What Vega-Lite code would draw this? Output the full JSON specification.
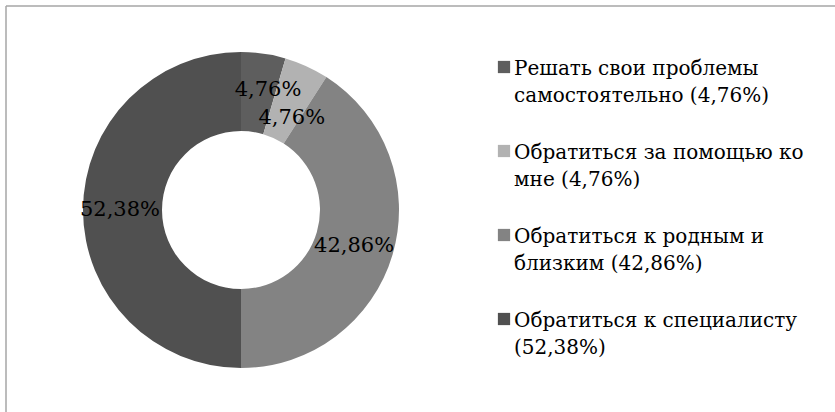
{
  "$schema": "https://vega.github.io/schema/vega-lite/v6.json",
  "width": 840,
  "height": 420,
  "padding": {"left": 6, "top": 6, "right": 0, "bottom": 0},
  "autosize": {"type": "none"},
  "background": "white",
  "config": {
    "view": {"stroke": null},
    "style": {"guide-label": {"lineHeight": 27, "dy": 7.5}}
  },
  "data": {
    "values": [
      {"idx": 1, "label": "Решать свои проблемы|самостоятельно (4,76%)", "value": 4.76, "pct": "4,76%"},
      {"idx": 2, "label": "Обратиться за помощью ко|мне (4,76%)", "value": 4.76, "pct": "4,76%"},
      {"idx": 3, "label": "Обратиться к родным и|близким (42,86%)", "value": 42.86, "pct": "42,86%"},
      {"idx": 4, "label": "Обратиться к специалисту|(52,38%)", "value": 52.38, "pct": "52,38%"}
    ]
  },
  "encoding": {
    "theta": {"field": "value", "type": "quantitative", "stack": true},
    "order": {"field": "idx", "type": "quantitative"}
  },
  "layer": [
    {
      "mark": {"type": "arc", "innerRadius": 79, "outerRadius": 158, "x": 235, "y": 204},
      "encoding": {
        "color": {
          "field": "label",
          "type": "nominal",
          "sort": null,
          "scale": {
            "domain": [
              "Решать свои проблемы|самостоятельно (4,76%)",
              "Обратиться за помощью ко|мне (4,76%)",
              "Обратиться к родным и|близким (42,86%)",
              "Обратиться к специалисту|(52,38%)"
            ],
            "range": ["#5e5e5e", "#b2b2b2", "#838383", "#505050"]
          },
          "legend": {
            "title": null,
            "orient": "none",
            "legendX": 488,
            "legendY": 51,
            "symbolType": "square",
            "symbolSize": 150,
            "symbolStrokeWidth": 0,
            "labelFont": "DejaVu Serif",
            "labelFontSize": 20,
            "labelColor": "#000000",
            "labelLimit": 400,
            "labelOffset": 0,
            "labelBaseline": "alphabetic",
            "rowPadding": 35,
            "labelExpr": "split(datum.label, '|')"
          }
        }
      }
    },
    {
      "mark": {"type": "text", "radius": 120, "x": 235, "y": 204, "dx": 10, "dy": -1, "font": "DejaVu Serif", "fontSize": 21, "color": "#000000"},
      "encoding": {"text": {"condition": {"test": "datum.idx == 1", "field": "pct"}, "value": ""}}
    },
    {
      "mark": {"type": "text", "radius": 120, "x": 235, "y": 204, "dx": 1, "dy": 17, "font": "DejaVu Serif", "fontSize": 21, "color": "#000000"},
      "encoding": {"text": {"condition": {"test": "datum.idx == 2", "field": "pct"}, "value": ""}}
    },
    {
      "mark": {"type": "text", "radius": 120, "x": 235, "y": 204, "dx": -2, "dy": 2, "font": "DejaVu Serif", "fontSize": 21, "color": "#000000"},
      "encoding": {"text": {"condition": {"test": "datum.idx == 3", "field": "pct"}, "value": ""}}
    },
    {
      "mark": {"type": "text", "radius": 120, "x": 235, "y": 204, "dx": -1, "dy": 0, "font": "DejaVu Serif", "fontSize": 21, "color": "#000000"},
      "encoding": {"text": {"condition": {"test": "datum.idx == 4", "field": "pct"}, "value": ""}}
    },
    {
      "data": {"values": [{}]},
      "mark": {"type": "rule", "color": "#a6a6a6", "strokeWidth": 1.5},
      "encoding": {"x": {"value": 0}, "y": {"value": 0}, "x2": {"value": 840}, "y2": {"value": 0}}
    },
    {
      "data": {"values": [{}]},
      "mark": {"type": "rule", "color": "#a6a6a6", "strokeWidth": 1.5},
      "encoding": {"x": {"value": 0}, "y": {"value": 0}, "x2": {"value": 0}, "y2": {"value": 420}}
    }
  ]
}
